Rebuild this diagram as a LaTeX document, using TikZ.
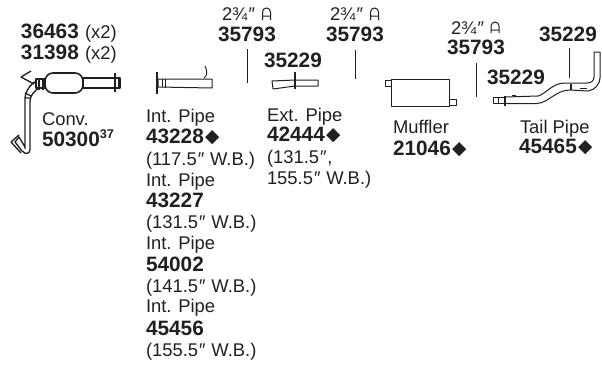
\documentclass[tikz,border=0pt]{standalone}
\usepackage{fontspec}
\setmainfont{Liberation Sans}
\newfontfamily\symfont{DejaVu Sans}
\definecolor{ink}{HTML}{231F20}
\newcommand{\dia}{\raisebox{0.4pt}{\kern1pt{\symfont\fontsize{14}{14}\selectfont ◆}}}
\newcommand{\dpr}{\kern0.8pt″\kern0.4pt}
\tikzset{
 x=0.75pt,y=-0.75pt,
 reg/.style={anchor=base west,inner sep=0pt,outer sep=0pt,text=ink,font=\fontsize{13.8}{15}\selectfont},
 num/.style={anchor=base west,inner sep=0pt,outer sep=0pt,text=ink,font=\fontsize{15.6}{18}\selectfont\bfseries},
 part/.style={draw=ink,line width=0.75pt,line join=round,fill=white},
 conv/.style={draw=ink,line width=1pt,line join=round,fill=white},
 tick/.style={draw=ink,line width=0.7pt},
 heavy/.style={draw=ink,line width=1.7pt},
 clamp/.style={draw=ink,line width=0.75pt}
}
\begin{document}
\begin{tikzpicture}
\useasboundingbox (0,0) rectangle (602,364);
% left labels
\node[num] (a1) at (21,38) {36463};
\node[reg] (a2) at (85,38) {(x2)};
\node[num] (b1) at (21,59) {31398};
\node[reg] (b2) at (85,59) {(x2)};
\node[reg] (conv) at (42,125) {Conv.};
\node[num] (convn) at (42,146) {50300\raisebox{6pt}{\fontsize{9.5}{10}\selectfont 37}};
% converter
\draw[conv] (25,149) -- (25,100) .. controls (25,92) and (28,88) .. (34,82) -- (40,87) .. controls (33,92) and (30,96) .. (30,102) -- (30,149) .. controls (30,154) and (26,155) .. (22,151) -- (15,142) -- (19,137) -- (25,147);
\draw[conv] (25,93) -- (31,96) (25,98) -- (30,98);
\draw[conv] (21,77) -- (31,71) (21,77) -- (34,84);
\draw[conv] (11,142) -- (19,135) (11,142) -- (21,153);
\draw[conv] (36,79) rectangle (45,88);
\draw[heavy] (39,78) -- (39,90) (43,78) -- (43,90);
\draw[conv] (83,78) rectangle (120,88);
\draw[conv,line width=1.2pt,rounded corners=6pt] (45,73) rectangle (83,93);
\draw[heavy] (115,73) -- (115,92);
\draw[heavy] (119,77) -- (119,89);
% int pipe
\draw[part] (158,79) -- (212,79) -- (212,88) -- (158,87) -- cycle;
\draw[part] (162,79) -- (162,87);
\draw[part] (165,79) -- (165,88);
\draw[draw=ink,line width=1pt] (157,72) -- (157,94);
\draw[tick] (204,78) .. controls (208,76) and (207,70) .. (205,66);
\node[reg] (p1) at (146,122) {Int. Pipe};
\node[num] (p1n) at (146,143) {43228\dia};
\node[reg] (p1w) at (146,165) {(117.5\dpr{} W.B.)};
\node[reg] (p2) at (146,186) {Int. Pipe};
\node[num] (p2n) at (146,207) {43227};
\node[reg] (p2w) at (146,228) {(131.5\dpr{} W.B.)};
\node[reg] (p3) at (146,249) {Int. Pipe};
\node[num] (p3n) at (146,271) {54002};
\node[reg] (p3w) at (146,292) {(141.5\dpr{} W.B.)};
\node[reg] (p4) at (146,312) {Int. Pipe};
\node[num] (p4n) at (146,335) {45456};
\node[reg] (p4w) at (146,356) {(155.5\dpr{} W.B.)};
% clamps top
\node[reg] (c1) at (222,20) {2¾\dpr};
\draw[clamp] (262.5,20) -- (262.5,12) arc (180:360:4) -- (270.5,20) (262.5,16) -- (270.5,16);
\node[num] (c1n) at (218,41) {35793};
\draw[tick] (247,49) -- (247,83);
\node[reg] (c2) at (330,20) {2¾\dpr};
\draw[clamp] (370.5,20) -- (370.5,12) arc (180:360:4) -- (378.5,20) (370.5,16) -- (378.5,16);
\node[num] (c2n) at (326,41) {35793};
\draw[tick] (355,50) -- (355,79);
\node[reg] (c3) at (451,34) {2¾\dpr};
\draw[clamp] (491,33) -- (491,26) arc (180:360:4) -- (499,33) (491,30) -- (499,30);
\node[num] (c3n) at (447,54) {35793};
\draw[tick] (476,63) -- (476,97);
\node[num] (e1) at (264,67) {35229};
% ext pipe
\draw[part] (272,81) -- (295,80) -- (318,80) -- (318,86) -- (295,86) -- (273,89) -- cycle;
\draw[heavy] (295,72) -- (295,89);
\node[reg] (ext) at (267,121) {Ext. Pipe};
\node[num] (extn) at (267,141) {42444\dia};
\node[reg] (extw) at (267,163) {(131.5\dpr,};
\node[reg] (extw2) at (267,184) {155.5\dpr{} W.B.)};
% muffler
\draw[part] (385,80) rectangle (392,86);
\draw[part] (449,99) rectangle (456,105);
\draw[part] (391,79) rectangle (449,106);
\node[reg] (m) at (393,133) {Muffler};
\node[num] (mn) at (393,155) {21046\dia};
% tail pipe
\node[num] (t1) at (539,41) {35229};
\draw[tick] (569,48) -- (569,78);
\node[num] (t2) at (487,84) {35229};
\draw[part] (493,97) rectangle (505,103.5);
\draw[part] (498,97) -- (498,103.5);
\draw[part] (505,97) -- (538,96) .. controls (546,94) and (552,83) .. (565,83) -- (587,83) .. controls (591,83) and (594,81) .. (594,77) -- (594,52) -- (600,52) -- (600,78) .. controls (600,84) and (595,90) .. (588,91) -- (570,90) .. controls (556,90) and (548,103) .. (537,103.5) -- (505,103.5) -- cycle;
\draw[heavy] (505,96) -- (505,106);
\draw[heavy] (571,84) -- (571,90);
\draw[tick] (512,95.5) -- (516,95.5);
\draw[tick] (580,88) -- (587,88);
\node[reg] (tp) at (520,133) {Tail Pipe};
\node[num] (tpn) at (519,153) {45465\dia};
\end{tikzpicture}
\end{document}
